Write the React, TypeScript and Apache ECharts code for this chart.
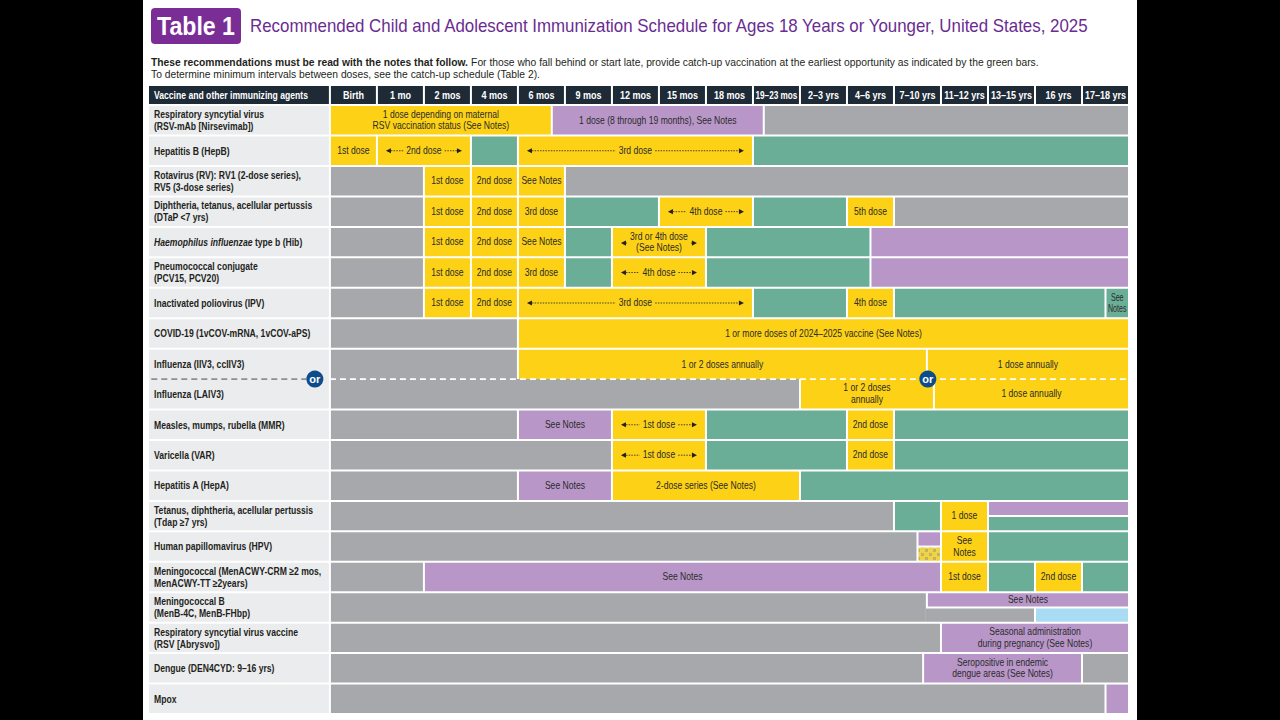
import { useEffect, useRef } from "react";
import * as echarts from "echarts";

const FONT = "'Liberation Sans', Arial, sans-serif";
const CONDENSE = 0.86;
const LABEL_CONDENSE = 0.82;

const titleBadge = "Table 1";
const titleText = "Recommended Child and Adolescent Immunization Schedule for Ages 18 Years or Younger, United States, 2025";
const noteBold = "These recommendations must be read with the notes that follow.";
const noteRest = " For those who fall behind or start late, provide catch-up vaccination at the earliest opportunity as indicated by the green bars.";
const noteLine2 = "To determine minimum intervals between doses, see the catch-up schedule (Table 2).";

const agentHeader = "Vaccine and other immunizing agents";
const ages = ["Birth", "1 mo", "2 mos", "4 mos", "6 mos", "9 mos", "12 mos", "15 mos", "18 mos", "19–23 mos", "2–3 yrs", "4–6 yrs", "7–10 yrs", "11–12 yrs", "13–15 yrs", "16 yrs", "17–18 yrs"];

const vaccines = [
  "Respiratory syncytial virus\n(RSV-mAb [Nirsevimab])",
  "Hepatitis B (HepB)",
  "Rotavirus (RV): RV1 (2-dose series),\nRV5 (3-dose series)",
  "Diphtheria, tetanus, acellular pertussis\n(DTaP <7 yrs)",
  "{i|Haemophilus influenzae} type b (Hib)",
  "Pneumococcal conjugate\n(PCV15, PCV20)",
  "Inactivated poliovirus (IPV)",
  "COVID-19 (1vCOV-mRNA, 1vCOV-aPS)",
  "Influenza (IIV3, ccIIV3)",
  "Influenza (LAIV3)",
  "Measles, mumps, rubella (MMR)",
  "Varicella (VAR)",
  "Hepatitis A (HepA)",
  "Tetanus, diphtheria, acellular pertussis\n(Tdap ≥7 yrs)",
  "Human papillomavirus (HPV)",
  "Meningococcal (MenACWY-CRM ≥2 mos,\nMenACWY-TT ≥2years)",
  "Meningococcal B\n(MenB-4C, MenB-FHbp)",
  "Respiratory syncytial virus vaccine\n(RSV [Abrysvo])",
  "Dengue (DEN4CYD: 9–16 yrs)",
  "Mpox",
];

// segment: [fromColumn, toColumn, colourCode, label, options]  (a = arrows, t = top half, b = bottom half, j = joined left)
const rsvMab = [[0, 4.72, "Y", "1 dose depending on maternal\nRSV vaccination status (See Notes)"], [4.72, 9.23, "P", "1 dose (8 through 19 months), See Notes"], [9.23, 17, "N"]];
const hepB = [[0, 1, "Y", "1st dose"], [1, 3, "Y", "2nd dose", "a"], [3, 4, "G"], [4, 9, "Y", "3rd dose", "a"], [9, 17, "G"]];
const rotavirus = [[0, 2, "N"], [2, 3, "Y", "1st dose"], [3, 4, "Y", "2nd dose"], [4, 5, "Y", "See Notes"], [5, 17, "N"]];
const dtap = [[0, 2, "N"], [2, 3, "Y", "1st dose"], [3, 4, "Y", "2nd dose"], [4, 5, "Y", "3rd dose"], [5, 7, "G"], [7, 9, "Y", "4th dose", "a"], [9, 11, "G"], [11, 12, "Y", "5th dose"], [12, 17, "N"]];
const hib = [[0, 2, "N"], [2, 3, "Y", "1st dose"], [3, 4, "Y", "2nd dose"], [4, 5, "Y", "See Notes"], [5, 6, "G"], [6, 8, "Y", "3rd or 4th dose\n(See Notes)", "a"], [8, 11.5, "G"], [11.5, 17, "P"]];
const pcv = [[0, 2, "N"], [2, 3, "Y", "1st dose"], [3, 4, "Y", "2nd dose"], [4, 5, "Y", "3rd dose"], [5, 6, "G"], [6, 8, "Y", "4th dose", "a"], [8, 11.5, "G"], [11.5, 17, "P"]];
const ipv = [[0, 2, "N"], [2, 3, "Y", "1st dose"], [3, 4, "Y", "2nd dose"], [4, 9, "Y", "3rd dose", "a"], [9, 11, "G"], [11, 12, "Y", "4th dose"], [12, 16.5, "G"], [16.5, 17, "G", "See\nNotes"]];
const covid = [[0, 4, "N"], [4, 17, "Y", "1 or more doses of 2024–2025 vaccine (See Notes)"]];
const fluIiv = [[0, 4, "N"], [4, 12.7, "Y", "1 or 2 doses annually"], [12.7, 17, "Y", "1 dose annually"]];
const fluLaiv = [[0, 10, "N"], [10, 12.85, "Y", "1 or 2 doses\nannually"], [12.85, 17, "Y", "1 dose annually"]];
const mmr = [[0, 4, "N"], [4, 6, "P", "See Notes"], [6, 8, "Y", "1st dose", "a"], [8, 11, "G"], [11, 12, "Y", "2nd dose"], [12, 17, "G"]];
const varicella = [[0, 6, "N"], [6, 8, "Y", "1st dose", "a"], [8, 11, "G"], [11, 12, "Y", "2nd dose"], [12, 17, "G"]];
const hepA = [[0, 4, "N"], [4, 6, "P", "See Notes"], [6, 10, "Y", "2-dose series (See Notes)"], [10, 17, "G"]];
const tdap = [[0, 12, "N"], [12, 13, "G"], [13, 14, "Y", "1 dose"], [14, 17, "P", "", "t"], [14, 17, "G", "", "b"]];
const hpv = [[0, 12.5, "N"], [12.5, 13, "P", "", "t"], [12.5, 13, "C", "", "b"], [13, 14, "Y", "See\nNotes"], [14, 17, "G"]];
const menAcwy = [[0, 2, "N"], [2, 13, "P", "See Notes"], [13, 14, "Y", "1st dose"], [14, 15, "G"], [15, 16, "Y", "2nd dose"], [16, 17, "G"]];
const menB = [[0, 12.7, "N"], [12.7, 17, "P", "See Notes", "t"], [12.7, 15, "N", "", "bj"], [15, 17, "B", "", "b"]];
const rsvVaccine = [[0, 13, "N"], [13, 17, "P", "Seasonal administration\nduring pregnancy (See Notes)"]];
const dengue = [[0, 12.62, "N"], [12.62, 16, "P", "Seropositive in endemic\ndengue areas (See Notes)"], [16, 17, "N"]];
const mpox = [[0, 16.5, "N"], [16.5, 17, "P"]];

const scheduleRows: any[] = [rsvMab, hepB, rotavirus, dtap, hib, pcv, ipv, covid, fluIiv, fluLaiv, mmr, varicella, hepA, tdap, hpv, menAcwy, menB, rsvVaccine, dengue, mpox];

// "or" markers and dashed divider between the two influenza rows: [x, row boundary]
const orMarks = [[-0.32, 9], [12.72, 9]];
const dividers = [[-3.8, -0.5, 9, "#8d8f92"], [0, 17, 9, "#ffffff"]];

const COLORS: Record<string, string> = { Y: "#FCD116", G: "#6BAE98", P: "#B897C8", N: "#A6A8AB", B: "#A9DCF2", C: "#E2C94E" };
const HEADER = "#1E2B36";
const LABEL_BG = "#EBECEE";
const LABEL_START = -3.87;
const HEAD_TOP = -0.66;
const JOIN_ROW_TOP = 9; // LAIV row has no gap above
const JOIN_ROW_BOTTOM = 8; // IIV row has no gap below

let ctx: CanvasRenderingContext2D | null = null;
function measure(text: string, font: string) {
  if (!ctx) ctx = document.createElement("canvas").getContext("2d");
  if (!ctx) return text.length * 5;
  ctx.font = font;
  return ctx.measureText(text).width;
}
function widest(text: string, font: string) {
  return Math.max(...text.replace(/\{i\|([^}]*)\}/g, "$1").split("\n").map((l) => measure(l, font)));
}

function checkerPattern() {
  const c = document.createElement("canvas");
  c.width = 8;
  c.height = 8;
  const g = c.getContext("2d")!;
  g.fillStyle = "#F0D448";
  g.fillRect(0, 0, 8, 8);
  g.fillStyle = "#C5B260";
  g.fillRect(1, 1, 3, 3);
  g.fillRect(5, 5, 3, 3);
  return c;
}

type Item = {
  value: number[];
  fill: any;
  text?: string;
  align?: string;
  color?: string;
  bold?: boolean;
  size?: number;
  condense?: number;
  arrows?: boolean;
  joinTop?: boolean;
  joinBottom?: boolean;
  joinLeft?: boolean;
};

function buildItems(pattern: any): Item[] {
  const items: Item[] = [];
  items.push({ value: [LABEL_START, 0, HEAD_TOP, 0], fill: HEADER, text: agentHeader, align: "left", color: "#ffffff", bold: true, size: 10.5, condense: LABEL_CONDENSE });
  ages.forEach((a, i) => items.push({ value: [i, i + 1, HEAD_TOP, 0], fill: HEADER, text: a, color: "#ffffff", bold: true, size: 10.5 }));
  vaccines.forEach((v, r) =>
    items.push({
      value: [LABEL_START, 0, r, r + 1],
      fill: LABEL_BG,
      text: v,
      align: "left",
      color: "#231F20",
      bold: true,
      size: 10.5,
      condense: LABEL_CONDENSE,
      joinTop: r === JOIN_ROW_TOP,
      joinBottom: r === JOIN_ROW_BOTTOM,
    })
  );
  scheduleRows.forEach((segs: any[], r: number) =>
    segs.forEach((s: any[]) => {
      const [x0, x1, code, label, opt = ""] = s;
      let r0 = r;
      let r1 = r + 1;
      if (opt.includes("t")) r1 = r + 0.5;
      if (opt.includes("b")) r0 = r + 0.5;
      items.push({
        value: [x0, x1, r0, r1],
        fill: code === "C" ? pattern : COLORS[code],
        text: label || "",
        color: "#2B2B2B",
        size: 10,
        arrows: opt.includes("a"),
        joinTop: r === JOIN_ROW_TOP && !opt.includes("b"),
        joinBottom: r === JOIN_ROW_BOTTOM && !opt.includes("t"),
        joinLeft: opt.includes("j"),
      });
    })
  );
  return items;
}

function fittedText(text: string, x: number, y: number, size: number, weight: string, target: number | null, fill: string, extra: any = {}) {
  const w = measure(text, `${weight} ${size}px ${FONT}`);
  const s = target ? target / w : CONDENSE;
  return {
    type: "text",
    x,
    y,
    scaleX: s,
    style: { text, x: 0, y: 0, align: "left", verticalAlign: "middle", fontSize: size, fontWeight: weight, fontFamily: FONT, fill, ...extra },
  };
}

export default function App() {
  const ref = useRef<HTMLDivElement>(null);
  useEffect(() => {
    if (!ref.current) return;
    const chart = echarts.init(ref.current, null, { renderer: "svg" });
    let pattern: any = COLORS.C;
    try {
      pattern = { image: checkerPattern(), repeat: "repeat" };
    } catch (e) {
      pattern = COLORS.C;
    }
    const items = buildItems(pattern);

    const renderCell = (params: any, api: any) => {
      const it = items[params.dataIndex];
      const p0 = api.coord([api.value(0), api.value(2)]);
      const p1 = api.coord([api.value(1), api.value(3)]);
      const x = p0[0] + (it.joinLeft ? -1 : 1);
      const w = p1[0] - x - 1;
      const y = p0[1] + (it.joinTop ? 0 : 1);
      const y2 = p1[1] - (it.joinBottom ? 0 : 1);
      const h = y2 - y;
      const children: any[] = [{ type: "rect", shape: { x, y, width: w, height: h }, style: { fill: it.fill } }];
      if (it.text) {
        const size = it.size || 10;
        const weight = it.bold ? "bold" : "normal";
        const left = it.align === "left";
        const font = `${weight} ${size}px ${FONT}`;
        const tw = widest(it.text, font);
        const room = left ? w - 7 : w - 3;
        const sc = Math.min(it.condense || CONDENSE, room / tw);
        const cx = left ? x + 5 : x + w / 2;
        const cy = y + h / 2;
        children.push({
          type: "text",
          x: cx,
          y: cy,
          scaleX: sc,
          style: {
            text: it.text,
            x: 0,
            y: 0,
            align: left ? "left" : "center",
            verticalAlign: "middle",
            fontSize: size,
            fontWeight: weight,
            fontFamily: FONT,
            lineHeight: size + 1.5,
            fill: it.color,
            rich: { i: { fontStyle: "italic", fontWeight: "bold", fontSize: size, fontFamily: FONT, fill: it.color } },
          },
        });
        if (it.arrows) {
          const sw = tw * sc;
          const ay = it.text.includes("\n") ? cy + 1 : cy;
          const lHead = x + 8;
          const lEnd = cx - sw / 2 - 3;
          const rStart = cx + sw / 2 + 3;
          const rHead = x + w - 8;
          const dark = "#231F20";
          children.push(
            { type: "polygon", shape: { points: [[lHead, ay], [lHead + 5, ay - 2.6], [lHead + 5, ay + 2.6]] }, style: { fill: dark } },
            { type: "line", shape: { x1: lHead + 5, y1: ay, x2: lEnd, y2: ay }, style: { stroke: dark, lineWidth: 0.8, lineDash: [1.5, 1.2] } },
            { type: "line", shape: { x1: rStart, y1: ay, x2: rHead - 5, y2: ay }, style: { stroke: dark, lineWidth: 0.8, lineDash: [1.5, 1.2] } },
            { type: "polygon", shape: { points: [[rHead, ay], [rHead - 5, ay - 2.6], [rHead - 5, ay + 2.6]] }, style: { fill: dark } }
          );
        }
      }
      return { type: "group", children };
    };

    const renderDivider = (params: any, api: any) => {
      const a = api.coord([api.value(0), api.value(2)]);
      const b = api.coord([api.value(1), api.value(2)]);
      return {
        type: "line",
        shape: { x1: a[0], y1: a[1], x2: b[0], y2: b[1] },
        style: { stroke: dividers[params.dataIndex][3], lineWidth: 1.6, lineDash: [6, 4] },
      };
    };

    const renderOr = (params: any, api: any) => {
      const p = api.coord([api.value(0), api.value(1)]);
      return {
        type: "group",
        children: [
          { type: "circle", shape: { cx: p[0], cy: p[1], r: 8.5 }, style: { fill: "#0D4C8B" } },
          { type: "text", style: { text: "or", x: p[0], y: p[1] - 0.5, align: "center", verticalAlign: "middle", fontSize: 11, fontWeight: "bold", fontFamily: FONT, fill: "#ffffff" } },
        ],
      };
    };

    const wBold = measure(noteBold, `bold 10.5px ${FONT}`);
    const wRest = measure(noteRest, `normal 10.5px ${FONT}`);
    const noteScale = 888 / (wBold + wRest);

    chart.setOption({
      animation: false,
      backgroundColor: "#000000",
      graphic: [
        { type: "rect", z: -10, shape: { x: 143, y: 0, width: 994, height: 720 }, style: { fill: "#ffffff" } },
        { type: "rect", shape: { x: 151, y: 8, width: 90, height: 36, r: 4 }, style: { fill: "#7B2D96" } },
        fittedText(titleBadge, 157, 26.5, 25, "bold", 78, "#ffffff"),
        fittedText(titleText, 250, 26, 18, "normal", 841, "#6A2C91"),
        {
          type: "text",
          x: 151,
          y: 62,
          scaleX: noteScale,
          style: {
            text: `{b|${noteBold}}${noteRest}`,
            x: 0,
            y: 0,
            align: "left",
            verticalAlign: "middle",
            fontSize: 10.5,
            fontFamily: FONT,
            fill: "#231F20",
            rich: { b: { fontWeight: "bold", fontSize: 10.5, fontFamily: FONT, fill: "#231F20" } },
          },
        },
        {
          type: "text",
          x: 151,
          y: 74,
          scaleX: noteScale,
          style: { text: noteLine2, x: 0, y: 0, align: "left", verticalAlign: "middle", fontSize: 10.5, fontFamily: FONT, fill: "#231F20" },
        },
      ],
      grid: { left: 148, right: 151, top: 85, bottom: 6 },
      xAxis: { type: "value", min: LABEL_START, max: 17, show: false },
      yAxis: { type: "value", min: HEAD_TOP, max: 20, inverse: true, show: false },
      series: [
        { type: "custom", renderItem: renderCell, data: items.map((d) => d.value), silent: true, clip: false },
        { type: "custom", renderItem: renderDivider, data: dividers.map((d) => [d[0], d[1], d[2]]), silent: true, z: 3 },
        { type: "custom", renderItem: renderOr, data: orMarks, silent: true, z: 4 },
      ],
    });
    return () => chart.dispose();
  }, []);
  return <div ref={ref} style={{ position: "fixed", left: 0, top: 0, width: 1280, height: 720 }} />;
}
